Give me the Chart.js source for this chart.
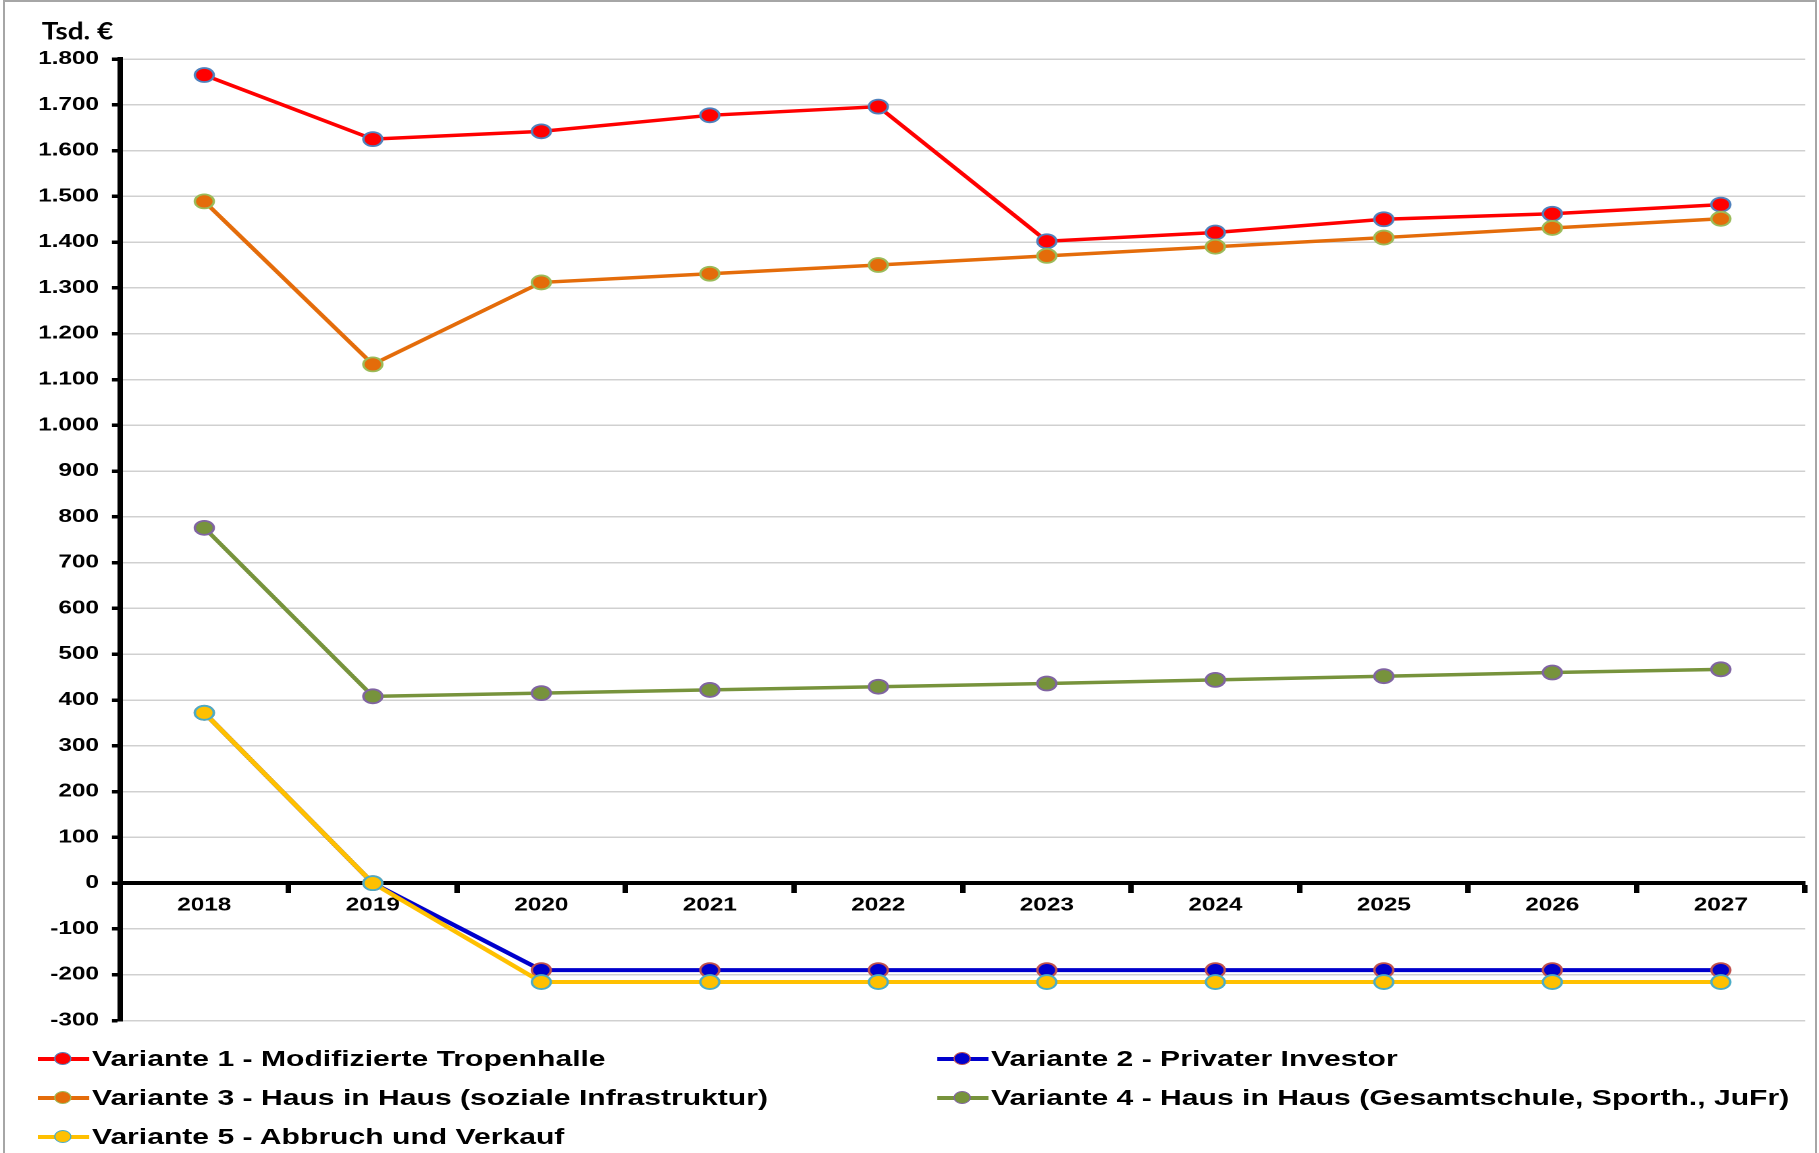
<!DOCTYPE html>
<html lang="de">
<head>
<meta charset="utf-8">
<title>Varianten – Tsd. €</title>
<script src="https://cdn.jsdelivr.net/npm/chart.js@4.4.1/dist/chart.umd.min.js"></script>
<style>
  html, body { margin: 0; padding: 0; background: #fff; width: 1819px; height: 1153px; overflow: hidden; }
  #frame { position: absolute; left: 3px; top: 0; width: 1814px; height: 1180px; border: 2px solid #a6a6a6; box-sizing: border-box; }
  /* the whole drawing is laid out narrow and stretched wide */
  #stage { position: absolute; left: 0; top: 0; width: 1347px; height: 1153px; transform-origin: 0 0; transform: scaleX(1.35041); }
  #chart { position: absolute; left: 0; top: 0; }
  .lg-item { position: absolute; display: flex; align-items: center; height: 30px; margin-top: -15px; white-space: nowrap;
             font: bold 22.3px "Liberation Sans", Arial, sans-serif; color: #000; }
  .lg-sym { position: relative; width: 38px; height: 16px; flex: none; }
  .lg-line { position: absolute; left: 0; right: 0; top: 50%; height: 4px; margin-top: -2px; }
  .lg-dot { position: absolute; left: 50%; top: 50%; width: 11px; height: 11px; margin: -7px 0 0 -7px; border-radius: 50%; border: 1.5px solid; }
  .lg-text { margin-left: 2px; }
</style>
</head>
<body>
<div id="frame"></div>
<div id="stage">
  <canvas id="chart" width="1347" height="1153"></canvas>
  <div id="legend"></div>
</div>
<script>
// ---- data ----
const unitLabel = 'Tsd. €';
const years = ['2018', '2019', '2020', '2021', '2022', '2023', '2024', '2025', '2026', '2027'];

const variante1 = [1765, 1625, 1642, 1677, 1696, 1402, 1421, 1450, 1462, 1482];
const variante2 = [372, 0, -190, -190, -190, -190, -190, -190, -190, -190];
const variante3 = [1489, 1133, 1312, 1331, 1350, 1370, 1390, 1410, 1431, 1451];
const variante4 = [776, 408, 415, 422, 429, 436, 444, 452, 460, 467];
const variante5 = [372, 0, -216, -216, -216, -216, -216, -216, -216, -216];

const seriesNames = [
  'Variante 1 - Modifizierte Tropenhalle',
  'Variante 2 - Privater Investor',
  'Variante 3 - Haus in Haus (soziale Infrastruktur)',
  'Variante 4 - Haus in Haus (Gesamtschule, Sporth., JuFr)',
  'Variante 5 - Abbruch und Verkauf'
];
const seriesValues = [variante1, variante2, variante3, variante4, variante5];

const yMin = -300;
const yMax = 1800;
const yStep = 100;

// ---- styling ----
const lineColors  = ['#FF0000', '#0000CC', '#E46C0A', '#77933C', '#FFC000'];
const markerEdges = ['#4F81BD', '#C0504D', '#9BBB59', '#8064A2', '#4BACC6'];
const lineWidths  = [3.5, 4, 3.5, 3.5, 4];
const fontFamily  = '"Liberation Sans", Arial, sans-serif';

// German thousands separator: 1800 -> 1.800
function formatDE(v) {
  const s = Math.abs(v).toString().replace(/\B(?=(\d{3})+(?!\d))/g, '.');
  return (v < 0 ? '-' : '') + s;
}

// unit caption above the value axis
const unitCaption = {
  id: 'unitCaption',
  afterDraw(chart) {
    const c = chart.ctx;
    c.save();
    c.font = 'bold 24px Lato, "Liberation Sans", sans-serif';
    c.fillStyle = '#000';
    c.textAlign = 'left';
    c.textBaseline = 'alphabetic';
    c.fillText(unitLabel, 30.9, 39.3, 53);
    c.restore();
  }
};

const chart = new Chart(document.getElementById('chart'), {
  type: 'line',
  data: {
    labels: years,
    datasets: seriesNames.map((name, i) => ({
      label: name,
      data: seriesValues[i],
      borderColor: lineColors[i],
      backgroundColor: lineColors[i],
      borderWidth: lineWidths[i],
      pointRadius: 7,
      pointHoverRadius: 7,
      pointBorderWidth: 1.8,
      pointBackgroundColor: lineColors[i],
      pointBorderColor: markerEdges[i],
      tension: 0,
      fill: false,
      clip: false,
      order: 5 - i
    }))
  },
  options: {
    responsive: false,
    animation: false,
    devicePixelRatio: 2,
    layout: { padding: { left: 0, right: 10.3, top: 59, bottom: 132.5 } },
    plugins: {
      legend: { display: false },
      tooltip: { enabled: false },
      title: { display: false }
    },
    scales: {
      x: {
        type: 'category',
        position: { y: 0 },
        offset: true,
        grid: {
          display: true,
          drawOnChartArea: false,
          drawTicks: true,
          offset: true,
          tickLength: 8,
          tickWidth: 4,
          tickColor: '#000'
        },
        border: { display: true, color: '#000', width: 4 },
        ticks: {
          color: '#000',
          font: { family: fontFamily, size: 18, weight: 'bold' },
          padding: 3.5,
          maxRotation: 0,
          autoSkip: false
        }
      },
      y: {
        min: yMin,
        max: yMax,
        ticks: {
          stepSize: yStep,
          color: '#000',
          font: { family: fontFamily, size: 18, weight: 'bold' },
          padding: 9.6,
          autoSkip: false,
          callback: v => formatDE(v)
        },
        grid: {
          color: ctx => (ctx.tick && ctx.tick.value === 0) ? 'rgba(0,0,0,0)' : '#D0D0D0',
          lineWidth: 1.5,
          drawTicks: true,
          tickLength: 6,
          tickWidth: 3.5,
          tickColor: '#000'
        },
        border: { display: true, color: '#000', width: 4 },
        afterFit: s => { s.width = 88.9; }
      }
    }
  },
  plugins: [unitCaption]
});

// ---- legend: two columns below the plot ----
(function buildLegend() {
  const host = document.getElementById('legend');
  const colX = [28.1, 693.9];
  const rowY = [1058.5, 1097.5, 1136.5];
  chart.data.datasets.forEach((ds, i) => {
    const item = document.createElement('div');
    item.className = 'lg-item';
    item.style.left = colX[i % 2] + 'px';
    item.style.top = rowY[Math.floor(i / 2)] + 'px';

    const sym = document.createElement('span');
    sym.className = 'lg-sym';
    const line = document.createElement('span');
    line.className = 'lg-line';
    line.style.background = ds.borderColor;
    const dot = document.createElement('span');
    dot.className = 'lg-dot';
    dot.style.background = ds.pointBackgroundColor;
    dot.style.borderColor = ds.pointBorderColor;
    sym.appendChild(line);
    sym.appendChild(dot);

    const text = document.createElement('span');
    text.className = 'lg-text';
    text.textContent = ds.label;

    item.appendChild(sym);
    item.appendChild(text);
    host.appendChild(item);
  });
})();
</script>
</body>
</html>
